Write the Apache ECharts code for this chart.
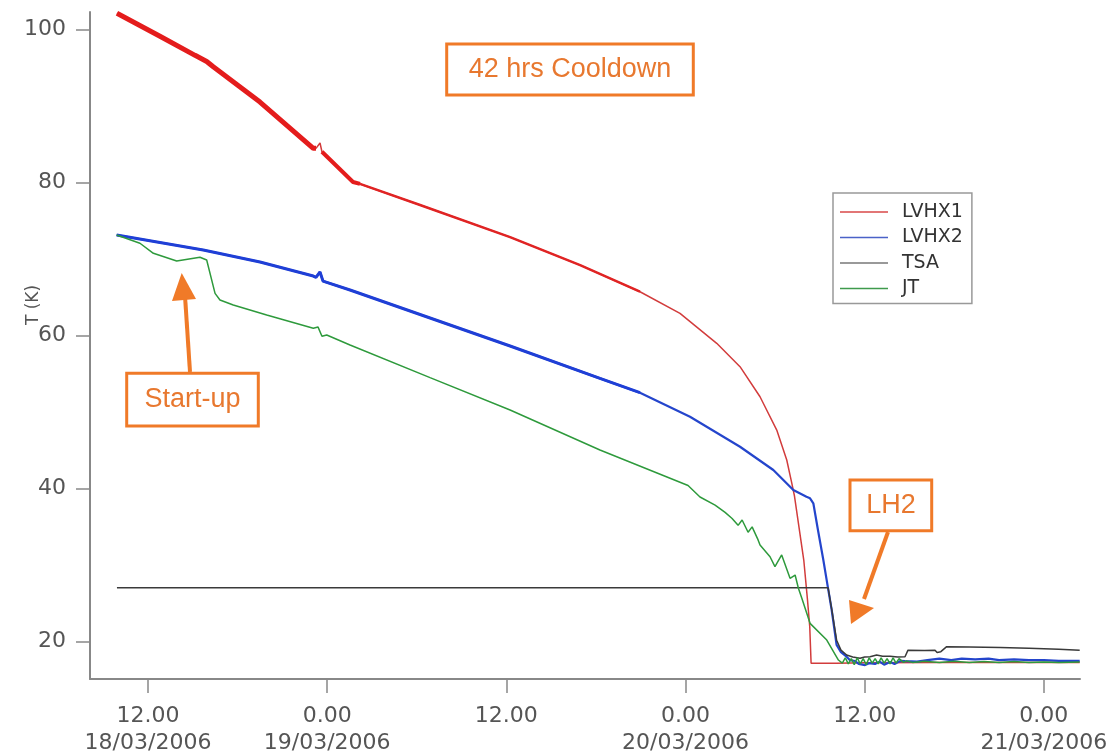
<!DOCTYPE html>
<html>
<head>
<meta charset="utf-8">
<script src="https://cdn.jsdelivr.net/npm/echarts@6/dist/echarts.min.js"></script>
<style>html,body{margin:0;padding:0;background:#fff;}#c{width:1119px;height:756px;}</style>
</head>
<body>
<div id="c"></div>
<script>
// ---- data (x = hours since 18/03/2006 0:00, y = temperature K) ----
var seriesNames = ['LVHX1', 'LVHX2', 'TSA', 'JT'];
var xTickHours = [12, 24, 36, 48, 60, 72];
var xTickLabels = ['12.00\n18/03/2006', '0.00\n19/03/2006', '12.00', '0.00\n20/03/2006', '12.00', '0.00\n21/03/2006'];
var yTicks = [20, 40, 60, 80, 100];

var lvhx1 = [
  [9.92,102.1],[12.80,99.1],[15.15,96.6],[15.93,95.8],[16.37,95.1],[19.50,90.5],[23.07,84.45],
  [23.25,84.45],[23.52,85.15],[23.65,84.0],[25.73,80.05],[26.2,79.8],[30.22,77.05],[36.25,72.85],
  [40.94,69.2],[44.95,65.72],[47.63,62.9],[50.09,58.98],[51.65,55.93],[52.99,52.0],[54.11,47.65],
  [54.78,43.74],[55.12,40.69],[55.3,39.0],[55.92,30.67],[56.17,25.44],[56.32,21.96],[56.41,17.18],
  [58.1,17.18],[60.0,17.25],[65.0,17.3],[70.0,17.3],[74.4,17.3]
];
var lvhx2 = [
  [9.90,73.13],[15.70,71.17],[19.5,69.6],[23.07,67.77],[23.25,67.6],[23.52,68.3],[23.72,67.1],
  [25.53,65.94],[36.25,58.63],[42.27,54.4],[44.95,52.53],[48.30,49.39],[51.65,45.47],[53.88,42.43],
  [55.22,39.82],[56.10,38.94],[56.34,38.73],[56.56,38.08],[56.87,34.6],[57.23,30.67],[57.51,27.4],
  [57.79,24.14],[58.12,19.57],[58.41,18.65],[58.79,18.04],[59.0,17.6],[59.35,17.48],[59.6,17.1],
  [60.02,16.95],[60.3,17.2],[60.69,17.1],[61.0,17.4],[61.3,17.0],[61.70,17.35],[62.0,17.1],
  [62.4,17.5],[62.70,17.47],[63.5,17.4],[64.2,17.6],[65.0,17.8],[65.8,17.6],[66.5,17.8],[67.4,17.7],
  [68.3,17.8],[69.0,17.6],[70.0,17.7],[71.0,17.6],[72.0,17.6],[73.0,17.5],[74.4,17.5]
];
var tsa = [
  [9.92,27.05],[57.55,27.05],[57.80,24.14],[58.12,20.2],[58.41,18.9],[58.79,18.26],[59.2,18.0],
  [59.69,17.83],[60.0,18.0],[60.36,18.04],[60.80,18.26],[61.2,18.1],[61.70,18.1],[62.2,18.0],
  [62.70,18.04],[62.90,18.9],[64.0,18.85],[64.71,18.9],[64.85,18.6],[65.1,18.7],[65.49,19.35],
  [67.0,19.3],[69.07,19.24],[71.0,19.15],[73.0,19.0],[74.4,18.9]
];
var jt = [
  [9.90,73.13],[11.46,72.05],[12.36,70.74],[13.92,69.73],[15.48,70.22],[15.93,69.86],[16.49,65.51],
  [16.82,64.64],[17.71,63.98],[19.95,62.68],[23.07,60.94],[23.39,61.1],[23.65,59.9],[23.97,60.07],
  [25.53,58.76],[30.89,54.5],[36.25,50.27],[42.27,45.05],[48.17,40.4],[48.97,38.9],[49.98,37.85],
  [50.65,36.9],[51.12,36.1],[51.52,35.2],[51.79,35.9],[52.19,34.3],[52.46,35.0],[52.86,33.3],
  [52.99,32.63],[53.66,31.1],[53.99,29.8],[54.44,31.33],[55.0,28.28],[55.34,28.71],[55.56,26.98],
  [55.79,25.67],[56.34,22.4],[57.46,20.22],[58.24,17.61],[58.5,17.2],[58.7,17.9],[58.9,17.1],
  [59.1,17.8],[59.3,17.0],[59.5,17.9],[59.7,17.1],[59.9,17.8],[60.1,17.0],[60.3,17.9],[60.5,17.2],
  [60.7,17.8],[60.9,17.1],[61.1,17.9],[61.3,17.2],[61.5,17.8],[61.7,17.1],[61.9,17.9],[62.1,17.2],
  [62.3,17.8],[62.6,17.3],[62.8,17.5],[63.2,17.3],[64.0,17.45],[65.0,17.3],[66.0,17.45],[67.0,17.3],
  [68.0,17.4],[69.0,17.3],[70.0,17.4],[71.0,17.3],[72.0,17.35],[73.0,17.3],[74.4,17.35]
];

// ---- chart ----
var chart = echarts.init(document.getElementById('c'), null, {renderer: 'canvas'});
var tickFont = 'DejaVu Sans';
var annoFont = 'Liberation Sans';
var orange = '#f07a28';
var orangeText = '#e8782f';

function seg(arr, a, b) { return arr.filter(function (p) { return p[0] >= a && p[0] <= b; }); }

var option = {
  animation: false,
  backgroundColor: '#fff',
  grid: {left: 90, right: 39, top: 12, bottom: 77, containLabel: false, outerBoundsMode: 'none'},
  xAxis: {
    type: 'value', min: 8.115, max: 74.42,
    axisLine: {show: true, lineStyle: {color: '#888', width: 2}},
    axisTick: {show: true, length: 14, customValues: xTickHours, lineStyle: {color: '#888', width: 1.5}},
    axisLabel: {
      customValues: xTickHours, margin: 24, color: '#555', fontFamily: tickFont, fontSize: 22, lineHeight: 27,
      formatter: function (v) { var i = xTickHours.indexOf(Math.round(v)); return i >= 0 ? xTickLabels[i] : ''; }
    },
    splitLine: {show: false}
  },
  yAxis: {
    type: 'value', min: 15.13, max: 102.26,
    axisLine: {show: true, lineStyle: {color: '#888', width: 2}},
    axisTick: {show: true, length: 14, customValues: yTicks, lineStyle: {color: '#888', width: 1.5}},
    axisLabel: {customValues: yTicks, margin: 24, color: '#555', fontFamily: tickFont, fontSize: 22},
    splitLine: {show: false}
  },
  legend: {
    orient: 'vertical', left: 833, top: 193, padding: [9, 9, 5, 7],
    borderColor: '#999', borderWidth: 1.5, backgroundColor: '#fff',
    icon: 'rect', itemWidth: 48, itemHeight: 1.5, itemGap: 5.5,
    data: seriesNames,
    textStyle: {fontFamily: tickFont, fontSize: 19, color: '#333', lineHeight: 20, padding: [0, 0, 0, 9]}
  },
  series: [
    {name: 'LVHX1', type: 'line', symbol: 'none', data: lvhx1, lineStyle: {color: '#d23c3c', width: 1.5}, itemStyle: {color: '#d84848'}, z: 2},
    {name: 'LVHX2', type: 'line', symbol: 'none', data: lvhx2, lineStyle: {color: '#2445cc', width: 2.2}, itemStyle: {color: '#4a62c8'}, z: 3},
    {name: 'TSA', type: 'line', symbol: 'none', data: tsa, lineStyle: {color: '#3a3a3a', width: 1.5}, itemStyle: {color: '#777'}, z: 4},
    {name: 'JT', type: 'line', symbol: 'none', data: jt, lineStyle: {color: '#2e9a3c', width: 1.5}, itemStyle: {color: '#3f9a4c'}, z: 5},
    {name: 'LVHX1', type: 'line', symbol: 'none', data: seg(lvhx1, 0, 23.3), lineStyle: {color: '#e41c1c', width: 5}, z: 2},
    {name: 'LVHX1', type: 'line', symbol: 'none', data: seg(lvhx1, 23.6, 26.3), lineStyle: {color: '#e41c1c', width: 4}, z: 2},
    {name: 'LVHX1', type: 'line', symbol: 'none', data: seg(lvhx1, 26.2, 45), lineStyle: {color: '#e02424', width: 2.5}, z: 2},
    {name: 'LVHX2', type: 'line', symbol: 'none', data: seg(lvhx2, 0, 45), lineStyle: {color: '#1f3fd6', width: 3}, z: 3}
  ],
  graphic: [
    {type: 'text', x: 34, y: 305, rotation: Math.PI / 2, style: {text: 'T (K)', fontFamily: tickFont, fontSize: 17, fill: '#555', align: 'center', verticalAlign: 'middle'}},
    {type: 'rect', shape: {x: 446.7, y: 44, width: 246.6, height: 51}, style: {fill: '#fff', stroke: orange, lineWidth: 3}, z: 10},
    {type: 'text', x: 570, y: 70, style: {text: '42 hrs Cooldown', fontFamily: annoFont, fontSize: 27, fill: orangeText, align: 'center', verticalAlign: 'middle'}, z: 11},
    {type: 'rect', shape: {x: 126.7, y: 373.3, width: 131.6, height: 52.7}, style: {fill: '#fff', stroke: orange, lineWidth: 3}, z: 10},
    {type: 'text', x: 192.5, y: 400, style: {text: 'Start-up', fontFamily: annoFont, fontSize: 27, fill: orangeText, align: 'center', verticalAlign: 'middle'}, z: 11},
    {type: 'line', shape: {x1: 190, y1: 372, x2: 185, y2: 296}, style: {stroke: orange, lineWidth: 4}, z: 10},
    {type: 'polygon', shape: {points: [[181.7, 273], [172, 301], [196, 299]]}, style: {fill: orange}, z: 10},
    {type: 'rect', shape: {x: 850, y: 480, width: 81.7, height: 50.7}, style: {fill: '#fff', stroke: orange, lineWidth: 3}, z: 10},
    {type: 'text', x: 891, y: 506, style: {text: 'LH2', fontFamily: annoFont, fontSize: 27, fill: orangeText, align: 'center', verticalAlign: 'middle'}, z: 11},
    {type: 'line', shape: {x1: 888, y1: 532, x2: 864, y2: 599}, style: {stroke: orange, lineWidth: 4}, z: 10},
    {type: 'polygon', shape: {points: [[851, 624], [849, 600], [874, 608]]}, style: {fill: orange}, z: 10}
  ]
};
chart.setOption(option);
</script>
</body>
</html>
